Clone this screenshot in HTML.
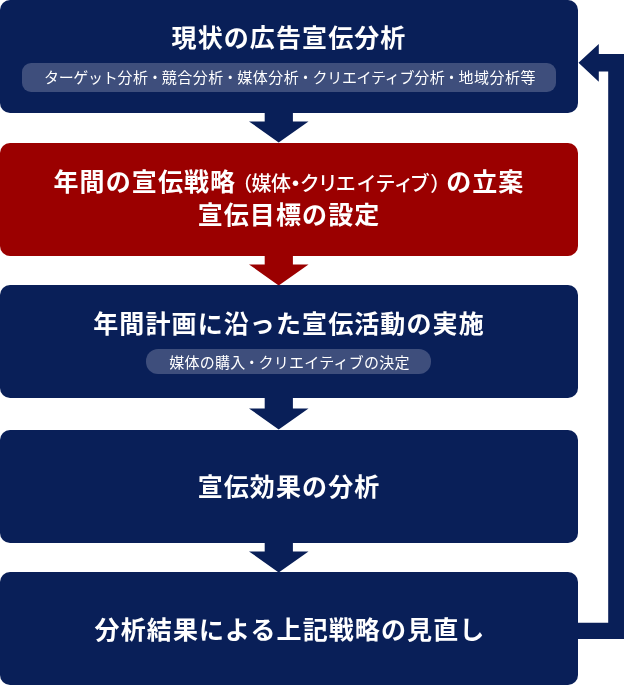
<!DOCTYPE html>
<html lang="ja">
<head>
<meta charset="utf-8">
<title>広告宣伝フロー</title>
<style>
html,body{margin:0;padding:0;background:#fff;}
body{width:625px;height:687px;position:relative;overflow:hidden;font-family:"Liberation Sans","Noto Sans CJK JP",sans-serif;color:#fff;}
.box{position:absolute;left:0;width:578px;height:112.7px;border-radius:10px;background:#091f58;}
.red{background:#9b0000;}
.t,.pill{will-change:transform;}
.t{position:absolute;left:0;width:578px;text-align:center;font-weight:bold;font-size:25px;line-height:30px;letter-spacing:1.1px;white-space:nowrap;}
.pill{position:absolute;height:29px;border-radius:9px;background:#3e4e7c;font-size:15px;line-height:29px;text-align:center;white-space:nowrap;letter-spacing:0.5px;}
.pill i{font-style:normal;margin:0 -1.1px;}
.pill b{font-weight:normal;letter-spacing:-0.3px;}
.sm{font-size:20px;font-weight:500;letter-spacing:-0.6px;margin-left:-4px;}
.sm i{font-style:normal;}
svg{position:absolute;left:0;top:0;}
</style>
</head>
<body>
<svg width="625" height="687" viewBox="0 0 625 687">
<g fill="#091f58">
<path d="M264.7 112h28.2v9.4h15.6L278.7 142.4 249 121.4h15.7z"/>
<path d="M264.7 395h28.2v13.4h15.6L278.7 429.4 249 408.4h15.7z"/>
<path d="M264.7 540h28.2v11.4h15.6L278.7 572.4 249 551.4h15.7z"/>
<path d="M578.5 62.7L598.8 44v9.9H624v585.2H577v-16.3h31.2V71.6h-9.4v10.2z"/>
</g>
<path fill="#9b0000" d="M264.7 255h28.2v9.4h15.6L278.7 285.4 249 264.4h15.7z"/>
</svg>
<div class="box" style="top:0"></div>
<div class="box red" style="top:143px"></div>
<div class="box" style="top:285px"></div>
<div class="box" style="top:430px"></div>
<div class="box" style="top:572px"></div>

<div class="t" style="top:23px">現状の広告宣伝分析</div>
<div class="pill" style="left:22px;top:63px;width:534px;padding-left:2px;box-sizing:border-box"><b>ターゲット</b>分析<i>・</i>競合分析<i>・</i>媒体分析<i>・</i><b>クリエイティブ</b>分析<i>・</i>地域分析等</div>

<div class="t" style="top:167px">年間の宣伝戦略<span class="sm">（媒体<i style="font-weight:900;font-size:26px;line-height:0;margin:0 -1.5px;vertical-align:-2.3px">･</i>ク<i style="margin-left:-1.5px;margin-right:1.5px">リ</i><i style="margin-left:-3px">エ</i><i style="margin-left:1.5px">イ</i>ティ<i style="margin-left:-3.3px">ブ</i><i style="margin-left:1px;margin-right:-3.5px">）</i></span>の立案</div>
<div class="t" style="top:200px">宣伝目標の設定</div>

<div class="t" style="top:309px">年間計画に沿った宣伝活動の実施</div>
<div class="pill" style="left:146px;top:349px;width:285px;height:25px;line-height:27px;border-radius:12px;letter-spacing:0.25px;padding-left:2px;box-sizing:border-box">媒体の購入<i>・</i>クリエイティブの決定</div>

<div class="t" style="top:472px">宣伝効果の分析</div>
<div class="t" style="top:615px;left:1px">分析結果による上記戦略の見直し</div>
</body>
</html>
